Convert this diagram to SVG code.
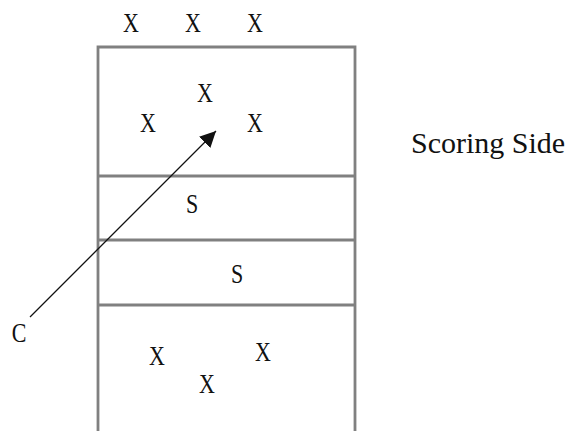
<svg xmlns="http://www.w3.org/2000/svg" width="576" height="431" viewBox="0 0 576 431">
<defs>
<style>
.court{fill:none;stroke:#808080;stroke-width:2.8}
.t{font-family:"Liberation Serif","Times New Roman",serif;font-size:22px;fill:#111;text-anchor:middle}
.big{font-family:"Liberation Serif","Times New Roman",serif;font-size:30px;fill:#111}
.conn{stroke:#111;stroke-width:1.3;fill:none}
</style>
<marker id="ah" viewBox="0 0 10 10" refX="10" refY="5" markerWidth="16" markerHeight="16" markerUnits="userSpaceOnUse" orient="auto">
<path d="M0,0 L10,5 L0,10 z" fill="#111"/>
</marker>
</defs>
<rect width="576" height="431" fill="#fff"/>
<g id="court">
<path class="court" d="M98,431 V47 H355 V431"/>
<line class="court" x1="98" y1="176" x2="355" y2="176"/>
<line class="court" x1="98" y1="240" x2="355" y2="240"/>
<line class="court" x1="98" y1="305" x2="355" y2="305"/>
</g>
<g id="top-players">
<text class="t" transform="translate(131,32) scale(1,1.2)">X</text>
<text class="t" transform="translate(193,32) scale(1,1.2)">X</text>
<text class="t" transform="translate(255,32) scale(1,1.2)">X</text>
</g>
<g id="upper-players">
<text class="t" transform="translate(205,102) scale(1,1.2)">X</text>
<text class="t" transform="translate(148,132) scale(1,1.2)">X</text>
<text class="t" transform="translate(255,132) scale(1,1.2)">X</text>
</g>
<g id="setters">
<text class="t" transform="translate(192,213) scale(1,1.2)">S</text>
<text class="t" transform="translate(237,283) scale(1,1.2)">S</text>
</g>
<g id="lower-players">
<text class="t" transform="translate(157,365) scale(1,1.2)">X</text>
<text class="t" transform="translate(263,361) scale(1,1.2)">X</text>
<text class="t" transform="translate(207,393) scale(1,1.2)">X</text>
</g>
<g id="c-label">
<text class="t" transform="translate(19,342) scale(1,1.2)">C</text>
</g>
<g id="label">
<text class="big" x="411" y="153">Scoring Side</text>
</g>
<g id="connectors">
<line class="conn" x1="30" y1="317" x2="216" y2="131" marker-end="url(#ah)"/>
</g>
</svg>
